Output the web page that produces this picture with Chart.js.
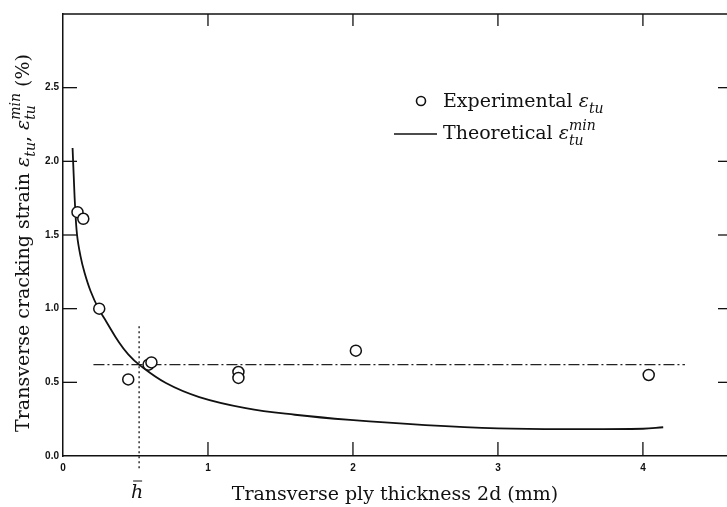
<!DOCTYPE html>
<html>
<head>
<meta charset="utf-8">
<script src="https://cdn.jsdelivr.net/npm/chart.js@4/dist/chart.umd.min.js"></script>
<style>
html,body{margin:0;padding:0;background:#fff;}
canvas{display:block;}
</style>
</head>
<body>
<canvas id="c" width="727" height="507"></canvas>
<script>
// ---- data ----
const expX = [0.10, 0.14, 0.25, 0.45, 0.59, 0.61, 1.21, 1.21, 2.02, 4.04];
const expY = [1.655, 1.61, 1.00, 0.52, 0.62, 0.635, 0.57, 0.53, 0.715, 0.55];
const theoX = [0.066, 0.074, 0.083, 0.097, 0.12, 0.147, 0.19, 0.245, 0.30, 0.387, 0.45, 0.525, 0.71, 0.94, 1.26, 1.6, 1.98, 2.5, 3.0, 3.5, 4.0, 4.14];
const theoY = [2.09, 1.90, 1.70, 1.50, 1.36, 1.25, 1.12, 1.00, 0.91, 0.77, 0.69, 0.62, 0.495, 0.40, 0.325, 0.28, 0.245, 0.21, 0.188, 0.182, 0.185, 0.195];
const plateauX = [0.21, 4.29];
const plateauY = [0.62, 0.62];
const hBarX = [0.525, 0.525];
const hBarY = [0.88, -0.1];
const xTicks = [0, 1, 2, 3, 4];
const yTicks = [0.0, 0.5, 1.0, 1.5, 2.0, 2.5];
const xRange = [0, 4.58];
const yRange = [0, 3.0];

const pts = (xs, ys) => xs.map((x, i) => ({x: x, y: ys[i]}));

const SERIF = '"DejaVu Serif", "Liberation Serif", serif';

function partFont(p, base) {
  const sz = (p.sub || p.stack) ? Math.round(base * 0.74) : base;
  return `${(p.it || p.stack) ? 'italic ' : ''}${sz}px ${SERIF}`;
}
function partWidth(ctx, p, base) {
  ctx.font = partFont(p, base);
  if (p.stack) return Math.max(ctx.measureText(p.stack[0]).width, ctx.measureText(p.stack[1]).width);
  return ctx.measureText(p.t).width;
}
function richWidth(ctx, parts, base) {
  return parts.reduce((w, p) => w + partWidth(ctx, p, base), 0);
}
function drawRich(ctx, parts, x, y, base) {
  let cx = x;
  parts.forEach(p => {
    const w = partWidth(ctx, p, base);
    ctx.font = partFont(p, base);
    if (p.stack) {
      ctx.fillText(p.stack[0], cx, y + base * 0.3);
      ctx.fillText(p.stack[1], cx, y - base * 0.45);
    } else {
      ctx.fillText(p.t, cx, p.sub ? y + base * 0.3 : y);
    }
    cx += w;
  });
}

const decor = {
  id: 'decor',
  afterDraw(chart) {
    const ctx = chart.ctx;
    const xs = chart.scales.x, ys = chart.scales.y;
    const a = chart.chartArea;
    ctx.save();
    ctx.strokeStyle = '#111';
    ctx.fillStyle = '#111';
    ctx.lineWidth = 1.5;
    ctx.beginPath(); ctx.moveTo(a.left, a.top); ctx.lineTo(a.right, a.top); ctx.stroke();
    ctx.lineWidth = 1.3;
    yTicks.forEach(v => {
      if (v === 0) return;
      const py = ys.getPixelForValue(v);
      ctx.beginPath(); ctx.moveTo(a.left, py); ctx.lineTo(a.left + 14, py); ctx.stroke();
      ctx.beginPath(); ctx.moveTo(a.right, py); ctx.lineTo(a.right - 9, py); ctx.stroke();
    });
    xTicks.forEach(v => {
      if (v === 0) return;
      const px = xs.getPixelForValue(v);
      ctx.beginPath(); ctx.moveTo(px, a.bottom); ctx.lineTo(px, a.bottom - 14); ctx.stroke();
      ctx.beginPath(); ctx.moveTo(px, a.top); ctx.lineTo(px, a.top + 12); ctx.stroke();
    });
    // legend
    const base = 19;
    ctx.textBaseline = 'alphabetic';
    ctx.textAlign = 'left';
    ctx.lineWidth = 1.6;
    ctx.beginPath(); ctx.arc(421, 101, 4.5, 0, Math.PI * 2); ctx.stroke();
    drawRich(ctx, [{t: 'Experimental '}, {t: 'ε', it: true}, {t: 'tu', it: true, sub: true}], 443, 107, base);
    ctx.beginPath(); ctx.moveTo(394, 134); ctx.lineTo(437, 134); ctx.stroke();
    drawRich(ctx, [{t: 'Theoretical '}, {t: 'ε', it: true}, {stack: ['tu', 'min']}], 443, 139, base);
    // x title
    const xt = [{t: 'Transverse ply thickness 2d (mm)'}];
    const xw = richWidth(ctx, xt, 19);
    drawRich(ctx, xt, 395 - xw / 2, 500, 19);
    // h-bar label
    ctx.font = `italic 19px ${SERIF}`;
    const hx = xs.getPixelForValue(hBarX[0]) - 2;
    const hw = ctx.measureText('h').width;
    ctx.fillText('h', hx - hw / 2, 498);
    ctx.lineWidth = 1;
    ctx.beginPath(); ctx.moveTo(hx - 4, 481); ctx.lineTo(hx + 5, 481); ctx.stroke();
    // y title
    const yt = [{t: 'Transverse cracking strain '}, {t: 'ε', it: true}, {t: 'tu', it: true, sub: true}, {t: ', '}, {t: 'ε', it: true}, {stack: ['tu', 'min']}, {t: ' (%)'}];
    const yw = richWidth(ctx, yt, 19);
    ctx.translate(29, 243);
    ctx.rotate(-Math.PI / 2);
    drawRich(ctx, yt, -yw / 2, 0, 19);
    ctx.restore();
  }
};

new Chart(document.getElementById('c'), {
  type: 'scatter',
  data: {
    datasets: [
      {
        label: 'Experimental',
        data: pts(expX, expY),
        showLine: false,
        pointRadius: 5.5,
        pointBorderWidth: 1.5,
        pointBackgroundColor: '#fff',
        pointBorderColor: '#111',
        order: 0
      },
      {
        label: 'Theoretical',
        data: pts(theoX, theoY),
        showLine: true,
        pointRadius: 0,
        borderColor: '#111',
        borderWidth: 1.8,
        tension: 0.4,
        order: 1
      },
      {
        label: 'plateau',
        data: pts(plateauX, plateauY),
        showLine: true,
        pointRadius: 0,
        borderColor: '#222',
        borderWidth: 1.3,
        borderDash: [11, 3, 2, 3],
        order: 2
      },
      {
        label: 'hbar',
        data: pts(hBarX, hBarY),
        showLine: true,
        pointRadius: 0,
        borderColor: '#222',
        borderWidth: 1.4,
        borderDash: [2, 3],
        clip: false,
        order: 3
      }
    ]
  },
  options: {
    responsive: false,
    animation: false,
    devicePixelRatio: 1,
    layout: {autoPadding: false, padding: {top: 14, right: 0, left: 0, bottom: 0}},
    plugins: {legend: {display: false}, tooltip: {enabled: false}},
    scales: {
      x: {
        type: 'linear',
        min: xRange[0], max: xRange[1],
        afterFit: s => { s.height = 51; },
        afterBuildTicks: s => { s.ticks = xTicks.map(v => ({value: v})); },
        grid: {display: false, drawTicks: false},
        border: {display: true, color: '#111', width: 1.5},
        ticks: {
          padding: 6,
          color: '#111',
          font: {family: '"Liberation Sans", Arial, sans-serif', size: 10, weight: 'bold'},
          callback: v => String(v)
        }
      },
      y: {
        type: 'linear',
        min: yRange[0], max: yRange[1],
        afterFit: s => { s.width = 63; },
        afterBuildTicks: s => { s.ticks = yTicks.map(v => ({value: v})); },
        grid: {display: false, drawTicks: false},
        border: {display: true, color: '#111', width: 1.5},
        ticks: {
          padding: 4,
          color: '#111',
          font: {family: '"Liberation Sans", Arial, sans-serif', size: 10, weight: 'bold'},
          callback: v => Number(v).toFixed(1)
        }
      }
    }
  },
  plugins: [decor]
});
</script>
</body>
</html>
